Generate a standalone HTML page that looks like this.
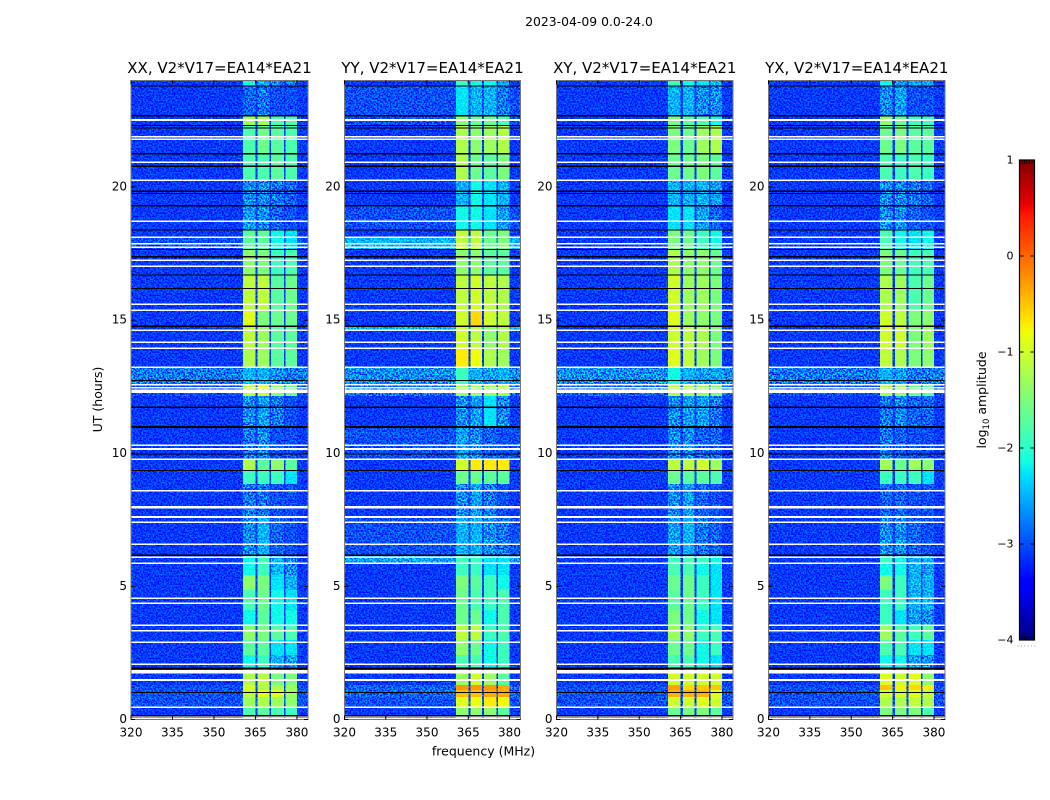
<!DOCTYPE html>
<html lang="en">
<head>
<meta charset="utf-8">
<title>2023-04-09 0.0-24.0</title>
<style>
html,body{margin:0;padding:0;background:#fff;}
svg{display:block;}
text{font-family:"DejaVu Sans","Liberation Sans",sans-serif;fill:#000;}
</style>
</head>
<body>
<svg id="figure" xmlns="http://www.w3.org/2000/svg" width="1050" height="800" viewBox="0 0 1050 800">
  <defs>
    <filter id="speckle" x="0" y="0" width="100%" height="100%" color-interpolation-filters="sRGB">
      <feTurbulence type="fractalNoise" baseFrequency="0.62" numOctaves="1" seed="7"/>
      <feColorMatrix type="matrix" values="3.6 0 0 0 -1.3  3.6 0 0 0 -1.3  3.6 0 0 0 -1.3  0 0 0 0 1"/>
    </filter>
  </defs>
  <text x="589" y="26" text-anchor="middle" font-size="12.4">2023-04-09 0.0-24.0</text>
  <text transform="translate(102,399.5) rotate(-90)" text-anchor="middle" font-size="12.5">UT (hours)</text>
  <text x="483.5" y="755.5" text-anchor="middle" font-size="12.5">frequency (MHz)</text>
  <text transform="translate(986,400) rotate(-90)" text-anchor="middle" font-size="12.5">log<tspan font-size="8.5" dy="3">10</tspan><tspan dy="-3"> amplitude</tspan></text>
</svg>
<script>
// Time boundaries of the heatmap rows (UT hours, top to bottom)
const timeEdges = [24,23.79,22.67,22.33,21.24,20.26,19.29,18.38,18.13,17.67,16.69,15.38,14.78,14.59,13.95,13.24,12.56,12.15,10.99,9.79,9.37,8.85,7.61,6.18,5.84,5.43,4.86,4.11,3.55,2.99,2.42,1.75,1.30,1.11,0.85,0.47,0];
// Frequency range of each bright band (MHz)
const bandRanges = [[360.5,365],[365.8,370],[370.7,375.3],[375.8,380]];
const freqRange = [320,384];
const timeRange = [0,24];
const freqTicks = [320,335,350,365,380];
const timeTicks = [0,5,10,15,20];
const colorTicks = [1,0,-1,-2,-3,-4];
const colorRange = [-4,1];
const panelNames = ['XX','YY','XY','YX'];
const panelTitle = ', V2*V17=EA14*EA21';

// log10 amplitude per row: [background, band1, band2, band3, band4]
const xxRows = [
[-3.1,-2.15,-2.5,-2.7,-2.8],[-3.1,-2.9,-2.8,-3.0,-3.0],[-3.1,-1.3,-1.3,-1.8,-1.8],[-3.1,-1.8,-1.6,-1.7,-1.8],
[-3.1,-1.8,-1.8,-1.7,-1.8],[-3.1,-2.7,-2.7,-2.8,-2.9],[-3.1,-2.6,-2.7,-2.9,-3.0],[-3.1,-1.7,-1.7,-2.15,-2.25],[-3.0,-1.7,-1.7,-2.15,-2.25],
[-3.1,-1.4,-1.5,-1.9,-1.8],[-3.1,-1.1,-1.1,-1.7,-1.6],[-3.1,-0.9,-1.5,-1.6,-1.6],[-3.1,-1.1,-1.3,-1.7,-1.7],
[-3.1,-1.1,-1.3,-1.7,-1.7],[-3.1,-1.2,-1.3,-1.7,-1.7],[-2.8,-2.5,-2.5,-2.7,-2.8],[-3.0,-1.1,-1.0,-1.4,-1.6],
[-3.1,-2.7,-2.6,-2.8,-3.0],[-3.1,-2.8,-2.7,-3.0,-3.0],[-3.1,-1.2,-1.7,-1.4,-1.7],[-3.1,-1.9,-1.9,-1.9,-2.25],
[-3.1,-2.8,-2.8,-3.0,-3.0],[-3.1,-2.7,-2.5,-2.9,-3.0],[-3.1,-2.15,-1.9,-2.5,-2.7],[-3.1,-2.15,-1.9,-2.5,-2.7],
[-3.1,-1.4,-1.5,-2.25,-2.5],[-3.1,-1.8,-1.6,-2.15,-2.25],[-3.1,-2.15,-1.7,-2.15,-2.15],[-3.1,-1.4,-1.5,-1.7,-1.8],
[-3.1,-1.7,-1.7,-2.25,-2.25],[-3.1,-2.15,-1.9,-2.5,-2.6],[-3.1,-1.2,-1.1,-1.5,-1.5],[-3.0,-0.9,-1.2,-1.2,-1.3],
[-3.0,-1.1,-0.9,-0.9,-1.3],[-3.0,-1.3,-1.2,-1.3,-1.4],[-3.1,-1.8,-1.7,-1.8,-1.9]
];
const yyRows = [
[-3.1,-1.9,-2.15,-2.15,-2.5],[-3.0,-2.25,-2.5,-2.5,-2.8],[-3.0,-1.4,-1.6,-1.6,-1.8],[-3.1,-1.2,-1.4,-1.3,-1.2],
[-3.1,-1.2,-1.6,-1.7,-1.5],[-3.1,-2.5,-2.15,-2.25,-2.5],[-3.0,-2.15,-2.15,-2.25,-2.6],[-3.1,-1.1,-1.1,-1.6,-1.5],[-2.5,-1.1,-1.1,-1.6,-1.5],
[-3.1,-1.4,-1.4,-1.7,-1.7],[-3.1,-1.1,-1.0,-1.1,-1.2],[-3.1,-1.0,-0.6,-1.0,-1.1],[-2.5,-1.0,-1.1,-1.4,-1.2],
[-3.1,-1.0,-1.1,-1.4,-1.2],[-3.1,-0.7,-0.8,-1.2,-1.3],[-2.7,-1.9,-2.5,-2.6,-2.5],[-2.85,-1.3,-1.3,-1.3,-1.2],
[-3.1,-2.7,-2.6,-2.25,-2.7],[-3.0,-2.6,-2.7,-2.9,-3.0],[-3.1,-1.0,-0.7,-0.7,-0.7],[-3.1,-1.6,-1.6,-1.7,-1.7],
[-3.1,-2.7,-2.6,-2.8,-3.0],[-3.0,-2.5,-2.5,-2.7,-2.8],[-2.6,-1.9,-1.9,-2.25,-2.25],[-3.1,-1.9,-1.9,-2.25,-2.25],
[-3.1,-1.5,-1.7,-1.9,-2.15],[-3.1,-1.6,-1.8,-1.9,-1.8],[-3.1,-1.6,-1.6,-2.15,-1.8],[-3.1,-1.1,-1.1,-1.9,-1.8],
[-3.1,-1.4,-1.6,-2.15,-1.9],[-3.1,-1.8,-1.8,-2.15,-1.9],[-3.1,-1.3,-1.0,-1.3,-1.7],[-2.9,-0.25,-0.25,-0.25,-0.35],
[-2.9,-0.45,-0.45,-0.35,-0.35],[-3.0,-0.9,-0.8,-0.7,-0.8],[-3.1,-1.4,-1.4,-1.4,-1.7]
];
const xyRows = [
[-3.1,-1.9,-2.15,-2.25,-2.5],[-3.1,-2.5,-2.5,-2.7,-2.7],[-3.1,-1.5,-1.7,-1.8,-2.15],[-3.1,-1.5,-1.6,-1.3,-1.2],
[-3.1,-1.6,-1.6,-1.5,-1.7],[-3.1,-2.5,-2.5,-2.5,-2.6],[-3.1,-2.25,-2.25,-2.6,-2.9],[-3.1,-1.5,-1.6,-1.9,-2.15],[-3.1,-1.5,-1.6,-1.9,-2.15],
[-3.1,-1.2,-1.4,-1.4,-1.6],[-3.1,-1.0,-1.3,-1.3,-1.5],[-3.1,-0.9,-1.3,-1.4,-1.5],[-3.1,-1.0,-1.1,-1.2,-1.5],
[-3.1,-1.0,-1.1,-1.2,-1.5],[-3.1,-0.9,-1.1,-1.3,-1.5],[-2.7,-2.15,-2.5,-2.6,-2.6],[-2.9,-1.2,-1.2,-1.3,-1.5],
[-3.1,-2.7,-2.6,-2.6,-2.8],[-3.1,-2.7,-2.7,-2.9,-2.9],[-3.1,-1.1,-1.1,-1.0,-1.3],[-3.1,-1.6,-1.7,-1.7,-1.8],
[-3.1,-2.7,-2.6,-2.9,-3.0],[-3.1,-2.6,-2.5,-2.8,-2.9],[-3.1,-1.9,-1.8,-1.9,-2.15],[-3.1,-1.8,-1.8,-2.15,-2.25],
[-3.1,-1.6,-1.6,-1.9,-2.25],[-3.1,-1.7,-1.6,-1.9,-2.25],[-3.1,-1.5,-1.6,-2.15,-2.25],[-3.1,-1.3,-1.4,-1.9,-1.8],
[-3.1,-1.6,-1.6,-2.15,-1.9],[-3.1,-1.8,-1.8,-2.15,-2.25],[-3.1,-1.0,-1.0,-1.0,-1.0],[-3.0,-0.3,-0.6,-0.5,-0.5],
[-3.0,-0.4,-0.4,-0.4,-0.9],[-3.0,-1.0,-1.0,-0.9,-1.0],[-3.1,-1.6,-1.5,-1.5,-1.7]
];
const yxRows = [
[-3.1,-2.15,-2.6,-2.5,-2.5],[-3.1,-2.7,-2.6,-3.0,-3.0],[-3.1,-1.4,-1.6,-1.9,-1.9],[-3.1,-1.6,-1.5,-1.7,-1.7],
[-3.1,-1.8,-1.9,-1.8,-1.9],[-3.1,-2.7,-2.7,-2.8,-2.9],[-3.1,-2.7,-2.7,-2.9,-3.0],[-3.1,-1.8,-2.15,-2.25,-2.15],[-3.1,-1.8,-2.15,-2.25,-2.15],
[-3.1,-1.5,-1.6,-1.9,-1.8],[-3.1,-1.2,-1.3,-1.8,-1.6],[-3.1,-1.0,-1.1,-1.5,-1.4],[-3.1,-1.0,-1.0,-1.5,-1.3],
[-3.1,-1.0,-1.0,-1.5,-1.3],[-3.1,-1.1,-1.2,-1.5,-1.4],[-2.8,-2.5,-2.6,-2.8,-2.8],[-3.0,-1.2,-1.3,-1.6,-1.7],
[-3.1,-2.8,-2.7,-2.9,-2.9],[-3.1,-2.8,-2.9,-3.0,-3.0],[-3.1,-1.3,-1.6,-1.3,-1.4],[-3.1,-1.9,-1.9,-1.9,-2.25],
[-3.1,-2.9,-2.9,-3.0,-3.0],[-3.1,-2.7,-2.7,-2.9,-3.0],[-3.1,-1.9,-2.15,-2.5,-2.5],[-3.1,-2.15,-2.15,-2.5,-2.6],
[-3.1,-1.5,-1.9,-2.5,-2.5],[-3.1,-1.9,-1.9,-2.5,-2.5],[-3.1,-1.9,-2.25,-2.6,-2.7],[-3.1,-1.3,-1.7,-1.9,-1.7],
[-3.1,-1.8,-1.8,-2.25,-2.25],[-3.1,-2.15,-2.15,-2.6,-2.7],[-3.1,-0.9,-1.0,-0.9,-1.4],[-3.0,-0.5,-0.7,-0.6,-0.7],
[-3.0,-1.0,-1.0,-0.9,-1.1],[-3.0,-1.2,-1.2,-1.1,-1.2],[-3.1,-1.5,-1.5,-1.5,-1.8]
];
// Flagged time ranges [from, to] in UT hours
const whiteFlags = [[22.48,22.55],[21.86,21.92],[21.76,21.82],[20.90,20.96],[20.23,20.29],[18.68,18.74],[18.08,18.14],[17.84,17.90],[17.71,17.77],[17.22,17.28],[16.99,17.05],[15.56,15.62],[15.34,15.40],[14.59,14.65],[14.14,14.20],[13.91,13.97],[13.20,13.26],[12.54,12.60],[12.43,12.49],[12.27,12.39],[10.27,10.33],[10.13,10.19],[9.74,9.80],[8.56,8.62],[7.92,8.02],[7.57,7.65],[7.38,7.44],[6.55,6.61],[6.06,6.12],[5.84,5.90],[4.52,4.58],[4.33,4.39],[3.51,3.57],[3.31,3.37],[2.87,2.93],[2.05,2.11],[1.73,1.86],[1.45,1.52],[0.43,0.49],[0.08,0.13],[0,0.05]];
const blackFlags = [[23.77,23.81],[22.64,22.70],[22.29,22.33],[22.20,22.24],[21.23,21.27],[20.76,20.80],[19.82,19.86],[19.74,19.78],[19.26,19.32],[18.36,18.40],[17.64,17.68],[17.36,17.40],[16.67,16.71],[16.17,16.21],[14.75,14.79],[12.72,12.76],[11.70,11.76],[10.95,11.02],[9.95,9.99],[9.34,9.38],[6.15,6.19],[1.87,1.95],[0.99,1.03],[0.12,0.16]];

const panelRows = [xxRows, yyRows, xyRows, yxRows];

const NS = 'http://www.w3.org/2000/svg';
const svg = document.getElementById('figure');
const panelBoxes = [[131,308],[344.5,520.5],[556.5,733],[768.5,945]];
const plotTop = 80.5, plotBottom = 719.5;
const smoothAbove = -2.0;

function make(tag, parent, attrs, txt){
  const el = document.createElementNS(NS, tag);
  for (const k in attrs) el.setAttribute(k, attrs[k]);
  if (txt !== undefined) el.textContent = txt;
  parent.appendChild(el);
  return el;
}
function ramp(v, pts){
  if (v <= pts[0][0]) return pts[0][1];
  for (let i = 1; i < pts.length; i++){
    if (v <= pts[i][0]){
      const a = pts[i-1], b = pts[i];
      return a[1] + (b[1]-a[1])*(v-a[0])/(b[0]-a[0]);
    }
  }
  return pts[pts.length-1][1];
}
function jet(level){
  const v = (level - colorRange[0])/(colorRange[1]-colorRange[0]);
  const r = ramp(v, [[0,0],[0.35,0],[0.66,1],[0.89,1],[1,0.5]]);
  const g = ramp(v, [[0,0],[0.125,0],[0.375,1],[0.64,1],[0.91,0],[1,0]]);
  const b = ramp(v, [[0,0.5],[0.11,1],[0.34,1],[0.65,0],[1,0]]);
  return 'rgb(' + Math.round(r*255) + ',' + Math.round(g*255) + ',' + Math.round(b*255) + ')';
}
const yScale = h => plotBottom - (h - timeRange[0])/(timeRange[1]-timeRange[0])*(plotBottom-plotTop);
const xScaleFor = box => f => box[0] + (f - freqRange[0])/(freqRange[1]-freqRange[0])*(box[1]-box[0]);

panelRows.forEach((rows, p) => {
  const box = panelBoxes[p];
  const xs = xScaleFor(box);
  const lname = panelNames[p].toLowerCase();
  const g = make('g', svg, {});
  
  

  const heat = make('g', g, {'shape-rendering':'crispEdges', style:'isolation:isolate'});
  
  

  // Faint cells sit under the speckle texture; strong band cells are drawn above it.
  const drawBands = keepStrong => rows.forEach((row, r) => {
    const y0 = yScale(timeEdges[r]), y1 = yScale(timeEdges[r+1]);
    bandRanges.forEach((band, b) => {
      if ((row[b+1] >= smoothAbove) !== keepStrong) return;
      const cell = make('rect', heat, {x:xs(band[0]), y:y0, width:xs(band[1])-xs(band[0]), height:y1-y0, fill:jet(row[b+1])});
      
      
    });
  });

  rows.forEach((row, r) => {
    const y0 = yScale(timeEdges[r]), y1 = yScale(timeEdges[r+1]);
    const bg = make('rect', heat, {x:xs(freqRange[0]), y:y0, width:xs(freqRange[1])-xs(freqRange[0]), height:y1-y0, fill:jet(row[0])});
    
    
  });
  drawBands(false);

  const noise = make('rect', heat, {x:box[0], y:plotTop, width:box[1]-box[0], height:plotBottom-plotTop, filter:'url(#speckle)', style:'mix-blend-mode:overlay'});
  
  

  drawBands(true);

  whiteFlags.forEach(fl => {
    const y0 = yScale(fl[1]), y1 = yScale(fl[0]);
    const line = make('rect', g, {x:box[0], y:y0, width:box[1]-box[0], height:Math.max(y1-y0,1.6), fill:'#fff', 'shape-rendering':'crispEdges'});
    
    
  });
  blackFlags.forEach(fl => {
    const y0 = yScale(fl[1]), y1 = yScale(fl[0]);
    const line = make('rect', g, {x:box[0], y:y0, width:box[1]-box[0], height:Math.max(y1-y0,1), fill:'#000', 'shape-rendering':'crispEdges'});
    
    
  });

  const frame = make('rect', g, {x:box[0], y:plotTop, width:box[1]-box[0], height:plotBottom-plotTop, fill:'none', stroke:'#777', 'stroke-width':1});
  
  

  freqTicks.forEach(t => {
    const x = xs(t);
    const tb = make('line', g, {x1:x, x2:x, y1:plotBottom, y2:plotBottom-4, stroke:'#000', 'stroke-width':1});
    
    
    const tt = make('line', g, {x1:x, x2:x, y1:plotTop, y2:plotTop+4, stroke:'#000', 'stroke-width':1});
    
    
    const lb = make('text', g, {x:x, y:736.5, 'text-anchor':'middle', 'font-size':12}, String(t));
    
    
  });
  timeTicks.forEach(t => {
    const y = yScale(t);
    const tl = make('line', g, {x1:box[0], x2:box[0]+4, y1:y, y2:y, stroke:'#000', 'stroke-width':1});
    
    
    const tr = make('line', g, {x1:box[1]-4, x2:box[1], y1:y, y2:y, stroke:'#000', 'stroke-width':1});
    
    
    const lb = make('text', g, {x:box[0]-4, y:y+3.5, 'text-anchor':'end', 'font-size':12}, String(t));
    
    
  });
  const title = make('text', g, {x:(box[0]+box[1])/2, y:73, 'text-anchor':'middle', 'font-size':15}, panelNames[p] + panelTitle);
  
  
});

// Colorbar
const cbLeft = 1019.5, cbRight = 1034.5, cbTop = 160, cbBottom = 640;
const cbScale = l => cbBottom - (l - colorRange[0])/(colorRange[1]-colorRange[0])*(cbBottom-cbTop);
const cb = make('g', svg, {});


const cbStep = (colorRange[1]-colorRange[0])/240;
for (let i = 0; i < 240; i++){
  const lo = colorRange[0] + i*cbStep;
  const y1 = cbScale(lo), y0 = cbScale(lo + cbStep);
  const seg = make('rect', cb, {x:cbLeft, y:y0, width:cbRight-cbLeft, height:y1-y0+0.5, fill:jet(lo + cbStep/2), 'shape-rendering':'crispEdges'});
  
  
}
const cbFrame = make('rect', cb, {x:cbLeft, y:cbTop, width:cbRight-cbLeft, height:cbBottom-cbTop, fill:'none', stroke:'#000', 'stroke-width':1.2});


colorTicks.forEach(t => {
  const y = cbScale(t);
  const a = make('line', cb, {x1:cbLeft, x2:cbLeft+4, y1:y, y2:y, stroke:'#000', 'stroke-width':1});
  
  
  const b = make('line', cb, {x1:cbRight-4, x2:cbRight, y1:y, y2:y, stroke:'#000', 'stroke-width':1});
  
  
  const label = t < 0 ? '\u2212' + Math.abs(t) : String(t);
  const lb = make('text', cb, {x:1013.5, y:y+3.5, 'text-anchor':'end', 'font-size':11}, label);
  
  
});
for (let i = 1; i < 6; i++){
  const x = cbLeft + i*(cbRight-cbLeft)/6;
  const top = make('line', cb, {x1:x, x2:x, y1:cbTop, y2:cbTop+4, stroke:'#000', 'stroke-width':0.8});
  
  
  const bot = make('line', cb, {x1:x, x2:x, y1:cbBottom-4, y2:cbBottom, stroke:'#000', 'stroke-width':0.8});
  
  
}
for (let i = 0; i < 6; i++){
  const dot = make('rect', cb, {x:1017.5 + i*3.4, y:645.5, width:1, height:1, fill:'#999'});
  
  
}
</script>
</body>
</html>
